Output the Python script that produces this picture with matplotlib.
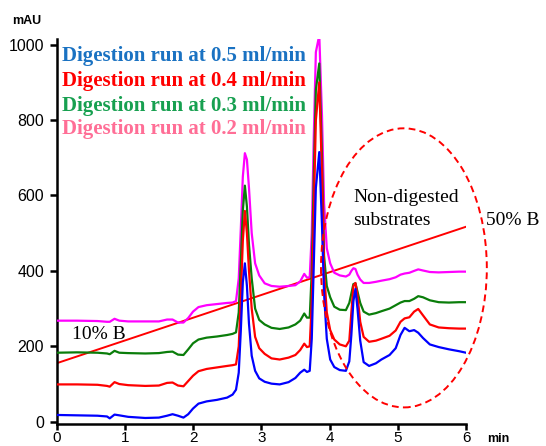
"""HPLC chromatograms of digestion runs at four flow rates."""

import matplotlib

matplotlib.use("Agg")
import matplotlib.pyplot as plt
from matplotlib.patches import Ellipse

# retention time grid shared by the four traces (min)
time_min = [
    0.0, 0.3, 0.6, 0.74, 0.78, 0.85, 0.92, 1.05, 1.3, 1.5, 1.62, 1.70, 1.78, 1.86,
    1.93, 2.0, 2.08, 2.2, 2.35, 2.5, 2.58, 2.63, 2.67, 2.70, 2.73, 2.76, 2.79, 2.82,
    2.86, 2.91, 2.97, 3.05, 3.15, 3.27, 3.40, 3.50, 3.57, 3.63, 3.67, 3.71, 3.74,
    3.77, 3.80, 3.85, 3.89, 3.92, 3.96, 4.01, 4.07, 4.15, 4.24, 4.29, 4.32, 4.35,
    4.38, 4.41, 4.45, 4.50, 4.58, 4.68, 4.76, 4.88, 4.97, 5.04, 5.10, 5.17, 5.24,
    5.30, 5.37, 5.47, 5.60, 5.75, 5.90, 6.0,
]

# absorbance (mAU)
flow_05 = [
    18, 17, 16, 14, 9, 19, 17, 13, 10, 11, 16, 20, 16, 11,
    20, 35, 48, 54, 58, 64, 72, 85, 130, 240, 370, 420, 360, 260,
    175, 135, 115, 106, 101, 99, 105, 116, 130, 138, 132, 135, 220,
    420, 620, 715, 520, 340, 220, 165, 145, 137, 135, 160, 230, 320,
    352, 300, 215, 158, 148, 155, 165, 177, 195, 230, 249, 240, 243,
    236, 222, 205, 198, 192, 187, 183,
]
flow_04 = [
    99, 99, 98, 95, 93, 105, 100, 97, 95, 96, 103, 104, 96, 94,
    108, 122, 134, 140, 144, 148, 150, 152, 200, 330, 480, 559, 500, 400,
    300, 225, 195, 180, 168, 165, 170, 177, 190, 207, 198, 200, 320,
    560, 800, 900, 650, 400, 290, 243, 218, 205, 200, 215, 290, 360,
    368, 335, 265, 225, 212, 215, 220, 228, 242, 265, 274, 277, 292,
    299, 282, 258, 250, 248, 247, 247,
]
flow_03 = [
    183, 184, 183, 181, 179, 188, 183, 182, 181, 182, 185, 186, 178, 177,
    192, 208, 218, 223, 226, 230, 233, 237, 290, 420, 560, 626, 570, 470,
    380, 300, 270, 258, 249, 246, 250, 258, 268, 287, 276, 276, 400,
    650, 880, 950, 700, 440, 360, 330, 305, 297, 296, 315, 340, 365,
    367, 345, 315, 292, 284, 288, 293, 300, 309, 316, 320, 320, 326,
    333, 330, 322, 317, 316, 317, 317,
]
flow_02 = [
    268, 268, 267, 265, 265, 273, 268, 266, 266, 266, 271, 271, 263, 263,
    275, 292, 304, 309, 312, 315, 316, 320, 380, 510, 650, 712, 695, 620,
    500, 420, 388, 367, 360, 358, 360, 362, 372, 392, 382, 383, 500,
    760, 980, 1025, 810, 580, 460, 420, 395, 388, 385, 390, 400, 407,
    405, 390, 377, 368, 368, 371, 374, 378, 383, 390, 393, 395, 400,
    404, 401, 397, 396, 397, 398, 398,
]

# gradient line (10% B -> 50% B), drawn in mAU units
gradient_time = [0.0, 6.0]
gradient_level = [155, 517]

run_labels = [
    "Digestion run at 0.5 ml/min",
    "Digestion run at 0.4 ml/min",
    "Digestion run at 0.3 ml/min",
    "Digestion run at 0.2 ml/min",
]
label_colors = ["#1a72c2", "#ff0000", "#17a050", "#ff6e96"]

SERIF = "Liberation Serif"
SANS = "Liberation Sans"

fig = plt.figure(figsize=(5.46, 4.46), dpi=100)
ax = fig.add_axes([0.1035, 0.0493, 0.75, 0.8626])

ax.plot(gradient_time, gradient_level, color="#ff0000", lw=1.4, zorder=2)
ax.plot(time_min, flow_02, color="#ff00ff", lw=1.6, zorder=3)
ax.plot(time_min, flow_03, color="#0a7d0a", lw=1.6, zorder=4)
ax.plot(time_min, flow_04, color="#ff0000", lw=1.6, zorder=5)
ax.plot(time_min, flow_05, color="#0000ff", lw=1.6, zorder=6)

ax.add_patch(Ellipse((5.09, 408), width=2.43, height=740, fill=False,
                     edgecolor="#ff0000", lw=1.4, ls=(0, (3.5, 2.2)), clip_on=False, zorder=7))

ax.set_xlim(0, 6)
ax.set_ylim(-6, 1014)
ax.set_xticks(range(0, 7))
ax.set_yticks([0, 200, 400, 600, 800, 1000])
for side in ("top", "right"):
    ax.spines[side].set_visible(False)
for side in ("left", "bottom"):
    ax.spines[side].set_linewidth(1.8)
ax.tick_params(axis="y", length=5, width=1.8, pad=4, labelsize=11.5)
ax.tick_params(axis="x", length=4.0, width=1.8, pad=1, labelsize=11)
for lab in ax.get_xticklabels() + ax.get_yticklabels():
    lab.set_fontfamily(SANS)

label_y = [957, 889, 825, 762]
for text, color, y in zip(run_labels, label_colors, label_y):
    ax.text(0.076, y, text, color=color, fontsize=15, fontweight="bold",
            family=SERIF, va="baseline", ha="left", zorder=8)

ax.text(4.35, 583, "Non-digested", fontsize=14, family=SERIF, va="baseline")
ax.text(4.35, 521, "substrates", fontsize=14, family=SERIF, va="baseline")
ax.text(6.30, 521, "50% B", fontsize=14, family=SERIF, va="baseline", clip_on=False)
ax.text(0.22, 219, "10% B", fontsize=14, family=SERIF, va="baseline")

fig.text(0.022, 0.946, "mAU", fontsize=9, fontweight="bold", family=SANS, va="baseline")
fig.text(0.892, 0.008, "min", fontsize=9, fontweight="bold", family=SANS, va="baseline")

fig.savefig("out.png", dpi=100)
